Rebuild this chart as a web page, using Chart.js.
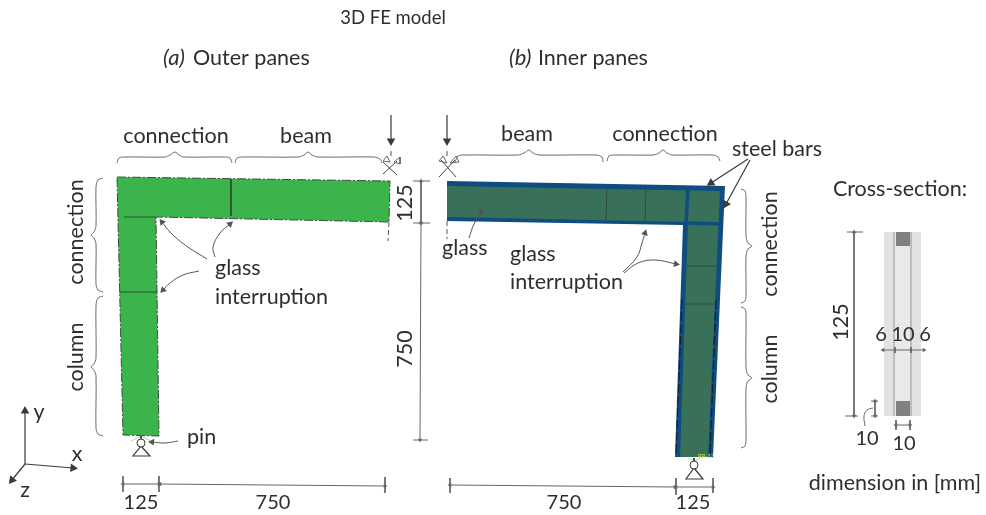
<!DOCTYPE html>
<html>
<head>
<meta charset="utf-8">
<title>3D FE model</title>
<script src="https://cdn.jsdelivr.net/npm/chart.js@4/dist/chart.umd.min.js"></script>
<style>
  html, body { margin: 0; padding: 0; background: #fff; }
  #wrap { width: 986px; height: 515px; }
  /* the source figure is a soft raster, so take the edge off */
  canvas { filter: blur(0.4px); }
</style>
</head>
<body>
<div id="wrap"><canvas id="chart" width="986" height="515"></canvas></div>
<script>
/* ── Diagram geometry, [x, y] in drawing units (y runs downwards) ── */
const outerPane = [[117,177],[390,181],[389,222],[156,217],[159,436],[123,435]];
const outerEdge = [[117,177],[390,181],[389,222],[156,217],[159,436],[123,435],[117,177]];
const outerCuts = [
  [[231,179],[231,216]],
  [[124,217],[156,217]],
  [[119,292],[157,292]],
];

const innerSteel = [[447,181],[725,186],[713,457],[675,457],[683,225],[447,221]];
const innerGlass = [[447,186],[720,191],[708,457],[680,457],[688,222],[447,217]];
const innerBars = [
  [[688,187],[686,224]],
  [[687,223],[722,224]],
];
const innerCuts = [
  [[607,187],[606,220]],
  [[646,188],[645,222]],
  [[686,266],[718,266]],
  [[684,304],[716,304]],
];
const innerDashes = [
  [[682,300],[676,455]],
  [[716,300],[710,455]],
];

const crossGlass = [[884,232],[921,232],[921,416],[884,416]];
const crossCore = [[895,232],[911,232],[911,416],[895,416]];
const crossBarTop = [[896,232],[910,232],[910,246],[896,246]];
const crossBarBottom = [[896,401],[910,401],[910,416],[896,416]];
const crossInterlayers = [
  [[894,232],[894,416]],
  [[911,232],[911,416]],
];

const braces = [
  [[117,163],[119,158],[126,157],[165,157],[170,155],[175,152],[179,155],[184,157],[224,157],[230,158],[232,163]],
  [[235,163],[237,158],[244,157],[298,157],[304,155],[308,152],[312,155],[318,157],[374,157],[380,159],[382,163]],
  [[455,162],[458,156],[466,155],[518,155],[524,153],[529,150],[533,153],[539,155],[596,155],[602,157],[603,162]],
  [[607,161],[609,156],[616,155],[653,155],[659,153],[663,150],[667,153],[672,155],[713,155],[718,157],[720,161]],
  [[103,178],[98,180],[96,187],[96,226],[94,232],[91,235],[94,238],[96,244],[96,284],[98,290],[103,292]],
  [[103,296],[98,298],[96,305],[96,358],[94,364],[91,367],[94,370],[96,376],[96,428],[98,434],[103,436]],
  [[741,189],[745,191],[746,197],[746,236],[748,243],[752,246],[748,249],[746,256],[746,295],[745,301],[741,303]],
  [[741,307],[745,309],[746,315],[746,368],[748,375],[752,378],[748,381],[746,388],[746,440],[745,446],[741,448]],
];

const curvedArrows = [
  [[207,259],[185,245],[170,232],[162,222]],
  [[215,257],[213,247],[220,233],[230,224]],
  [[199,271],[183,275],[170,283],[163,290]],
  [[178,441],[165,443],[152,442]],
  [[623,272],[637,257],[642,243],[645,233]],
  [[624,273],[638,263],[655,260],[676,264]],
  [[469,238],[474,224],[481,212]],
];
const straightArrows = [
  [[391,115],[391,141]],
  [[447,115],[447,141]],
  [[748,159],[711,183]],
  [[750,160],[726,204]],
  [[25,464],[25,411]],
  [[25,464],[73,468]],
  [[25,464],[12,480]],
];
const dimensions = [
  [[123,484],[159,484]],
  [[160,484],[385,486]],
  [[450,485],[675,487]],
  [[676,487],[713,487]],
  [[421,181],[421,223]],
  [[421,223],[420,440]],
  [[854,232],[854,416]],
  [[883,350],[924,350]],
  [[875,401],[875,416]],
  [[896,425],[910,425]],
];
const dimensionTicks = [
  [[123,476],[123,492]],
  [[159,476],[159,492]],
  [[385,477],[385,493]],
  [[450,478],[450,493]],
  [[676,478],[676,495]],
  [[713,478],[713,493]],
  [[413,181],[430,181]],
  [[413,223],[430,223]],
  [[413,440],[428,440]],
  [[847,232],[863,232]],
  [[845,416],[858,416]],
  [[871,401],[878,401]],
  [[871,416],[878,416]],
  [[896,420],[896,430]],
  [[910,420],[910,430]],
  [[895,347],[895,353]],
  [[911,347],[911,353]],
];
const leaderCurve = [[865,426],[864,416],[867,410],[873,408]];
const symmetryDashes = [
  [[389,222],[388,241]],
  [[447,221],[447,239]],
  [[391,151],[391,158]],
  [[447,151],[447,158]],
];

const supportCrosses = [
  [[383,174],[397,161]],
  [[383,162],[397,175]],
  [[439,177],[455,160]],
  [[441,160],[456,177]],
];
const supportWings = [
  [[383,161],[387,156],[390,162],[383,161]],
  [[394,162],[400,157],[400,164],[394,162]],
  [[439,161],[443,156],[447,163],[439,161]],
  [[450,163],[456,156],[459,162],[450,163]],
];
const pinTriangles = [
  [[141,446],[150,456],[133,456],[141,446]],
  [[694,468],[703,479],[686,479],[694,468]],
];
const pinStems = [
  [[141,436],[141,439]],
  [[694,458],[694,461]],
];
const pinCentres = [[141,443],[694,465]];
const pinGlow = [
  [[131,441],[141,436]],
  [[151,441],[141,436]],
  [[688,458],[694,461]],
  [[700,458],[694,461]],
];

/* ── Text ── */
const labelTexts = ['Outer panes','Inner panes','connection','beam','beam','connection','steel bars','glass','interruption','glass','glass','interruption','pin','x','y','z'];
const labelX = [193,538,176,306,527,665,732,215,215,442,510,510,187,77,39,25];
const labelY = [58,58,136,136,134,134,149,268,297,248,254,282,437,454,412,490];
const labelAlign = ['left','left','center','center','center','center','left','left','left','left','left','left','left','center','center','center'];

const titleTexts = ['3D FE model'];
const titleX = [393];
const titleY = [18];

const italicTexts = ['(a)','(b)'];
const italicX = [163,509];
const italicY = [58,58];

const captionTexts = ['Cross-section:','dimension in [mm]'];
const captionX = [900,895];
const captionY = [189,483];

const numberTexts = ['125','750','750','125','6','10','6','10','10'];
const numberX = [141,273,564,693,881,903,925,867,904];
const numberY = [503,503,503,503,335,335,335,439,444];

const sideTexts = ['connection','column','connection','column','125','750','125'];
const sideX = [76,76,770,770,405,405,841];
const sideY = [232,357,244,369,203,349,322];

/* ── Dataset helpers ── */
const INK = '#3a3a3a';
const DIM = '#666';
const toPoints = pts => pts.map(([x, y]) => ({ x, y }));

function shape(pts, color) {
  return { data: toPoints(pts), showLine: true, fill: 'shape', backgroundColor: color, borderColor: color, borderWidth: 0, pointRadius: 0, clip: false };
}

function stroke(pts, color, width, extra) {
  return Object.assign({ data: toPoints(pts), showLine: true, fill: false, borderColor: color, borderWidth: width, pointRadius: 0, clip: false }, extra);
}

function headAngle(a, b) {
  return Math.atan2(b[0] - a[0], a[1] - b[1]) * 180 / Math.PI;
}

function arrow(pts, size, both, width, color, tension) {
  const n = pts.length;
  const radius = pts.map((p, i) => (i === n - 1 || (both && i === 0)) ? size : 0);
  const rotation = pts.map((p, i) => i === 0 ? headAngle(pts[1], pts[0]) : headAngle(pts[i - 1], pts[i]));
  return stroke(pts, color, width, {
    tension: tension || 0,
    pointStyle: 'triangle',
    pointRadius: radius,
    pointRotation: rotation,
    pointBackgroundColor: color,
    pointBorderColor: color,
    pointBorderWidth: 0,
  });
}

const datasets = [
  shape(outerPane, '#3cb44c'),
  stroke(outerEdge, '#3f4a42', 1, { borderDash: [9, 2, 2, 2] }),
  ...outerCuts.map(c => stroke(c, '#2f4a36', 1)),

  shape(innerSteel, '#0f4c80'),
  shape(innerGlass, '#38705a'),
  ...innerBars.map(b => stroke(b, '#0f4c80', 3.5)),
  ...innerCuts.map(c => stroke(c, '#2c4a42', 1)),
  ...innerDashes.map(d => stroke(d, '#14202a', 1.2, { borderDash: [9, 3] })),

  shape(crossGlass, '#e2e2e2'),
  shape(crossCore, '#e9e9e9'),
  ...crossInterlayers.map(l => stroke(l, '#bdbdbd', 2)),
  shape(crossBarTop, '#808080'),
  shape(crossBarBottom, '#808080'),

  ...braces.map(b => stroke(b, '#6a6a6a', 1, { tension: 0.3 })),
  ...curvedArrows.map(a => arrow(a, 4, false, 1, '#555', 0.4)),
  ...straightArrows.map(a => arrow(a, 5, false, 1.2, INK)),
  ...dimensions.map(d => arrow(d, 2.5, true, 1, DIM)),
  ...dimensionTicks.map(t => stroke(t, DIM, 1)),
  stroke(leaderCurve, DIM, 1, { tension: 0.4 }),
  ...symmetryDashes.map(d => stroke(d, '#555', 1, { borderDash: [5, 3] })),
  ...supportCrosses.map(c => stroke(c, '#444', 1)),
  ...supportWings.map(w => stroke(w, '#666', 1)),
  ...pinGlow.map(g => stroke(g, '#a5dca5', 1)),
  ...pinStems.map(s => stroke(s, INK, 1)),
  ...pinTriangles.map(t => stroke(t, INK, 1.2)),
  {
    data: toPoints(pinCentres), showLine: false, clip: false,
    pointStyle: 'circle', pointRadius: 4, pointBackgroundColor: '#fff',
    pointBorderColor: INK, pointBorderWidth: 1,
  },
];
// Chart.js paints lower order on top, so later entries get a lower order
datasets.forEach((d, i) => { d.order = datasets.length - i; });

/* ── Text plugin ── */
const textPlugin = {
  id: 'diagramText',
  afterDatasetsDraw(chart) {
    const { ctx, scales: { x, y } } = chart;
    const put = (texts, xs, ys, font, align) => {
      ctx.font = font;
      texts.forEach((t, i) => {
        ctx.textAlign = Array.isArray(align) ? align[i] : align;
        ctx.fillText(t, x.getPixelForValue(xs[i]), y.getPixelForValue(ys[i]));
      });
    };

    ctx.save();
    ctx.fillStyle = '#2e2e2e';
    ctx.textBaseline = 'middle';
    put(labelTexts, labelX, labelY, '21.5px Lato', labelAlign);
    put(titleTexts, titleX, titleY, '18.5px Lato', 'center');
    put(italicTexts, italicX, italicY, 'italic 22px Lato', 'left');
    put(captionTexts, captionX, captionY, '21.5px Lato', 'center');
    put(numberTexts, numberX, numberY, '20px Lato', 'center');

    ctx.font = '21.5px Lato';
    ctx.textAlign = 'center';
    sideTexts.forEach((t, i) => {
      ctx.save();
      ctx.translate(x.getPixelForValue(sideX[i]), y.getPixelForValue(sideY[i]));
      ctx.rotate(-Math.PI / 2);
      ctx.fillText(t, 0, 0);
      ctx.restore();
    });

    // solver's reference point tag beside the inner pin
    ctx.font = '6px Lato';
    ctx.fillStyle = '#d8e84a';
    ctx.textAlign = 'left';
    ctx.fillText('RP-13', x.getPixelForValue(698), y.getPixelForValue(456));
    ctx.restore();
  },
};

new Chart(document.getElementById('chart'), {
  type: 'scatter',
  data: { datasets },
  plugins: [textPlugin],
  options: {
    responsive: false,
    animation: false,
    layout: { padding: 0, autoPadding: false },
    scales: {
      x: { type: 'linear', min: 0, max: 986, display: false },
      y: { type: 'linear', min: 0, max: 515, reverse: true, display: false },
    },
    plugins: { legend: { display: false }, tooltip: { enabled: false } },
  },
});
</script>
</body>
</html>
